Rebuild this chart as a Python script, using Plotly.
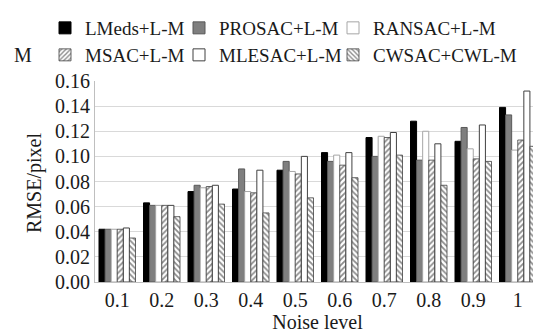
import plotly.graph_objects as go

noise_levels = ["0.1", "0.2", "0.3", "0.4", "0.5", "0.6", "0.7", "0.8", "0.9", "1"]
lmeds  = [0.042, 0.063, 0.072, 0.074, 0.089, 0.103, 0.115, 0.128, 0.112, 0.139]
prosac = [0.042, 0.061, 0.077, 0.090, 0.096, 0.096, 0.100, 0.097, 0.123, 0.133]
ransac = [0.042, 0.061, 0.075, 0.072, 0.088, 0.101, 0.116, 0.120, 0.106, 0.105]
msac   = [0.042, 0.061, 0.076, 0.071, 0.086, 0.093, 0.115, 0.097, 0.098, 0.113]
mlesac = [0.043, 0.061, 0.077, 0.089, 0.100, 0.103, 0.119, 0.110, 0.125, 0.152]
cwsac  = [0.035, 0.052, 0.062, 0.055, 0.067, 0.083, 0.101, 0.077, 0.096, 0.108]
y_ticks = [0.00, 0.02, 0.04, 0.06, 0.08, 0.10, 0.12, 0.14, 0.16]

FONT = "Liberation Serif"
TXT = "#1a1a1a"
W, H = 541, 333

series = [
    ("LMeds+L-M", lmeds, "legend",
     dict(color="#000000", line=dict(color="#000000", width=1))),
    ("PROSAC+L-M", prosac, "legend2",
     dict(color="#7f7f7f", line=dict(color="#595959", width=1))),
    ("RANSAC+L-M", ransac, "legend3",
     dict(color="#ffffff", line=dict(color="#a6a6a6", width=1))),
    ("MSAC+L-M", msac, "legend4",
     dict(color="#ffffff", line=dict(color="#404040", width=0.8),
          pattern=dict(shape="/", fgcolor="#1a1a1a", bgcolor="#ffffff", size=4, solidity=0.45))),
    ("MLESAC+L-M", mlesac, "legend5",
     dict(color="#ffffff", line=dict(color="#404040", width=1))),
    ("CWSAC+CWL-M", cwsac, "legend6",
     dict(color="#ffffff", line=dict(color="#404040", width=0.8),
          pattern=dict(shape="\\", fgcolor="#1a1a1a", bgcolor="#ffffff", size=4, solidity=0.45))),
]

fig = go.Figure()
for name, vals, lg, marker in series:
    fig.add_trace(go.Bar(x=noise_levels, y=vals, name=name, marker=marker, legend=lg))

def legend_at(text_x, row_y):
    return dict(orientation="v", x=(text_x - 41) / W, xref="container", xanchor="left",
                y=1 - row_y / H, yref="container", yanchor="middle",
                font=dict(family=FONT, size=19, color=TXT),
                itemwidth=30, tracegroupgap=0, traceorder="normal",
                bgcolor="rgba(0,0,0,0)", borderwidth=0)

COLS = [78, 212, 366]
ROWS = [20, 47]

fig.update_layout(
    width=W, height=H,
    margin=dict(l=87, r=9, t=73, b=59, autoexpand=False),
    paper_bgcolor="white", plot_bgcolor="white",
    barmode="group", bargap=0.18, bargroupgap=0.0,
    font=dict(family=FONT, size=20, color=TXT),
    showlegend=True,
    legend=legend_at(COLS[0], ROWS[0]),
    legend2=legend_at(COLS[1], ROWS[0]),
    legend3=legend_at(COLS[2], ROWS[0]),
    legend4=legend_at(COLS[0], ROWS[1]),
    legend5=legend_at(COLS[1], ROWS[1]),
    legend6=legend_at(COLS[2], ROWS[1]),
    xaxis=dict(title=dict(text="Noise level", font=dict(size=20), standoff=2),
               showline=True, linecolor="#bfbfbf", ticks="", showgrid=False,
               tickfont=dict(size=20)),
    yaxis=dict(range=[0, 0.16], tickvals=y_ticks, tickformat=".2f",
               showgrid=True, gridcolor="#d9d9d9", gridwidth=1,
               showline=True, linecolor="#bfbfbf", ticks="",
               tickfont=dict(size=20), zeroline=False),
)

# y-axis title and stray "M" placed relative to the plot domain (pixel-based)
fig.add_annotation(text="RMSE/pixel", textangle=-90, showarrow=False,
                   xref="x domain", yref="y domain",
                   x=(26 - 87) / 445, y=(274 - 175) / 201,
                   xanchor="center", yanchor="middle",
                   font=dict(family=FONT, size=20, color=TXT))
fig.add_annotation(text="M", showarrow=False,
                   xref="x domain", yref="y domain",
                   x=(4 - 87) / 445, y=(274 - 47) / 201,
                   xanchor="left", yanchor="middle",
                   font=dict(family=FONT, size=20, color=TXT))

fig.write_html("out.html")
